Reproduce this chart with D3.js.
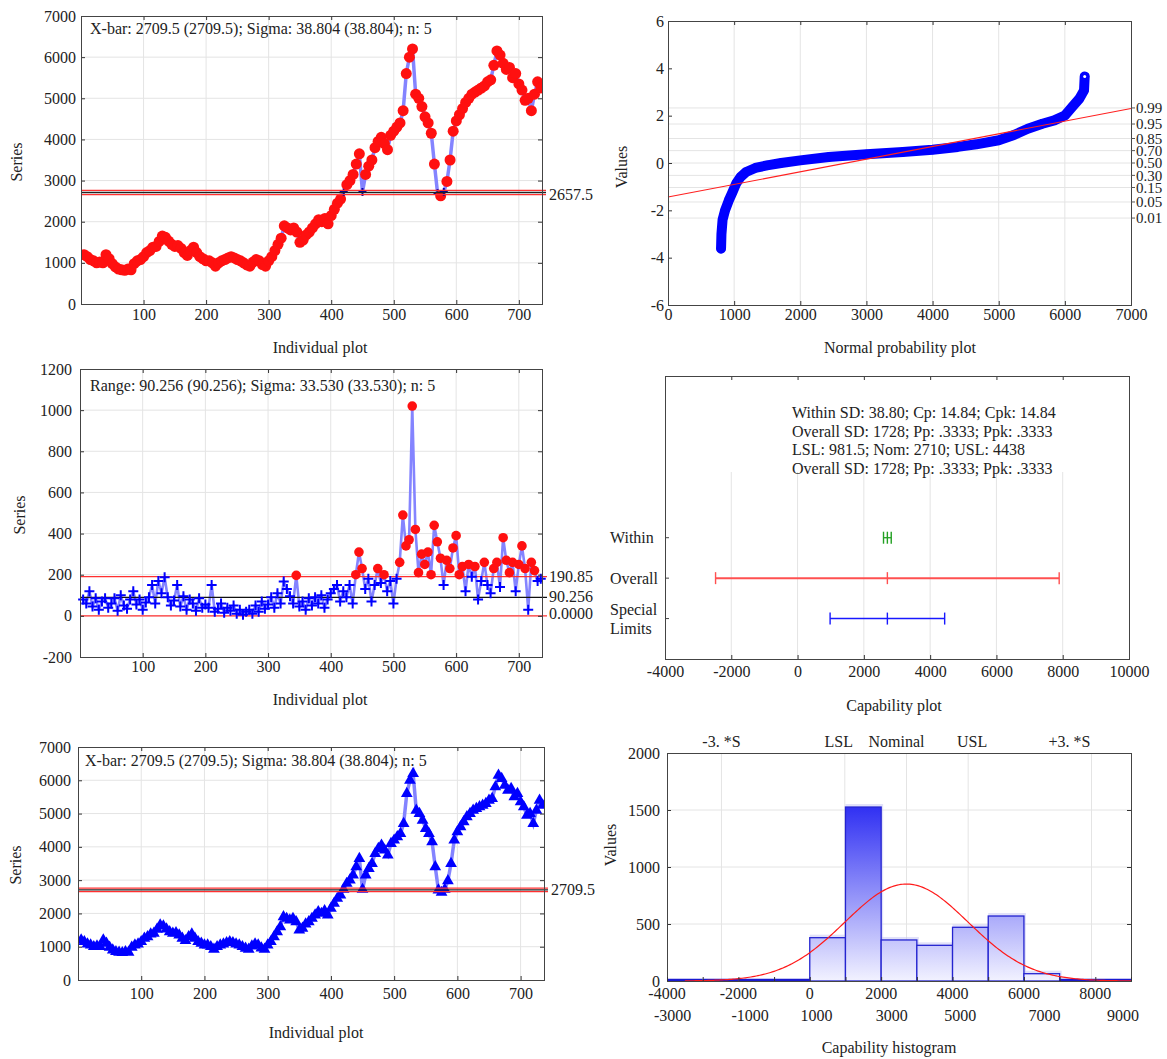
<!DOCTYPE html>
<html>
<head>
<meta charset="utf-8">
<script src="https://cdn.jsdelivr.net/npm/d3@7"></script>
<style>
  body { margin: 0; background: #fff; }
  svg { font-family: "Liberation Serif", serif; font-size: 16px; }
  text { fill: #222; }
</style>
</head>
<body>
<svg id="chart" width="1167" height="1059"></svg>
<script>
// ---------- data ----------
var sampleStep = 5; // every 5th subgroup
var xbarValues = [
  1200,1150,1080,1050,1000,1020,1000,1200,1100,980,
  900,850,830,820,850,830,980,1050,1080,1150,
  1250,1300,1380,1400,1520,1650,1620,1530,1450,1400,
  1420,1350,1250,1180,1300,1380,1250,1150,1100,1050,
  1050,1000,920,1000,1050,1080,1120,1150,1120,1080,
  1050,1000,950,920,1020,1080,1050,960,920,1050,
  1150,1300,1450,1600,1900,1850,1800,1850,1750,1500,
  1550,1680,1750,1850,1950,2050,2000,2080,1950,2150,
  2300,2450,2550,2720,2900,3000,3150,3400,3650,2720,
  3150,3350,3500,3800,3950,4050,3900,3750,4100,4200,
  4300,4400,4700,5600,6000,6200,5100,5000,4800,4550,
  4400,4150,3400,2700,2630,2720,2980,3500,4200,4450,
  4600,4750,4900,5000,5100,5150,5200,5250,5300,5400,
  5450,5800,6150,6050,5850,5700,5750,5500,5600,5350,
  5200,4950,5000,4700,5100,5400,5250
];
var rangeValues = [
  80,60,120,45,85,30,70,85,40,60,
  85,25,100,50,35,80,120,55,80,30,
  65,90,150,60,170,110,188,90,50,75,
  150,45,95,30,80,60,25,85,40,55,
  40,150,20,35,60,15,40,25,50,10,
  30,5,20,30,10,50,20,70,35,55,
  90,40,110,60,167,130,95,60,197,45,
  70,30,85,50,90,60,100,40,80,110,
  130,150,70,120,90,150,60,200,310,230,
  130,180,70,150,230,160,200,120,170,60,
  180,260,490,340,370,1020,420,210,300,250,
  310,200,440,360,280,150,270,230,330,390,
  200,240,120,250,190,240,80,170,260,150,
  110,230,260,140,380,270,210,260,120,250,
  340,230,30,260,220,170,180
];
// normal probability plot: observed value vs normal score
var probValues = [802,808,825,863,919,975,1030,1097,1181,1320,1498,1710,2000,2430,3000,
  3550,4000,4380,4660,5000,5220,5440,5660,5840,6000,6110,6220,6290,6300];
var probScores = [-3.62,-3.0,-2.4,-2.0,-1.58,-1.23,-0.87,-0.59,-0.38,-0.21,-0.10,0.0,0.11,0.25,0.37,
  0.46,0.56,0.68,0.79,0.96,1.17,1.45,1.66,1.80,2.01,2.37,2.72,3.07,3.66];
var probFit = [[0, -1.44], [7000, 2.30]];
var probLevels = [0.01, 0.05, 0.15, 0.30, 0.50, 0.70, 0.85, 0.95, 0.99];

var histEdges = [-4000,-3000,-2000,-1000,0,1000,2000,3000,4000,5000,6000,7000,8000];
var histCounts = [0,0,0,0,380,1526,360,313,471,570,64,0,0];
var histBinWidth = 1000;

var capCategories = ["Within", "Overall", "Special Limits"];

var xbarCenter = 2709.5, xbarLCL = 2657.5, xbarUCL = 2761.5;
var rangeCenter = 90.256, rangeUCL = 190.85, rangeLCL = 0;
var mean = 2709.5, withinSD = 38.804, overallSD = 1728;
var LSL = 981.5, USL = 4438, nominal = 2709.5;

// tick labels
var sampleTicks = [100, 200, 300, 400, 500, 600, 700];
var xbarYTicks = [0, 1000, 2000, 3000, 4000, 5000, 6000, 7000];
var rangeYTicks = [-200, 0, 200, 400, 600, 800, 1000, 1200];
var probXTicks = [0, 1000, 2000, 3000, 4000, 5000, 6000, 7000];
var probYTicks = [-6, -4, -2, 0, 2, 4, 6];
var capXTicks = [-4000, -2000, 0, 2000, 4000, 6000, 8000, 10000];
var histYTicks = [0, 500, 1000, 1500, 2000];
var histXTicksA = [-4000, -2000, 0, 2000, 4000, 6000, 8000];
var histXTicksB = [-3000, -1000, 1000, 3000, 5000, 7000, 9000];
var specNames = ["-3. *S", "LSL", "Nominal", "USL", "+3. *S"];

// ---------- helpers ----------
var svg = d3.select("#chart");
var GRID = "#e4e4e4";
var sampleX = (d, i) => (i + 1) * sampleStep;

function probit(p) { // quick approximation of the normal quantile
  return 4.91 * (Math.pow(p, 0.14) - Math.pow(1 - p, 0.14));
}

function grid(b, x, y, vs, hs, top) {
  var g = svg.append("g");
  g.selectAll(".v").data(vs || []).join("line")
    .attr("x1", d => x(d)).attr("x2", d => x(d))
    .attr("y1", top || b.t).attr("y2", b.b)
    .attr("stroke", GRID);
  g.selectAll(".h").data(hs || []).join("line")
    .attr("x1", b.l).attr("x2", b.r)
    .attr("y1", d => y(d)).attr("y2", d => y(d))
    .attr("stroke", GRID);
}

function clean(sel) {
  sel.attr("font-size", null).attr("font-family", null).attr("color", "#333");
  sel.select(".domain").remove();
}

function axes(b, x, y, o) {
  var fmt = d => String(d);
  if (o.xTicks) {
    svg.append("g").attr("transform", `translate(0,${b.b})`)
      .call(d3.axisBottom(x).tickValues(o.xTicks).tickSize(-4).tickPadding(o.xPad).tickFormat(o.xFmt || fmt))
      .call(clean);
    svg.append("g").attr("transform", `translate(0,${b.t})`)
      .call(d3.axisTop(x).tickValues(o.xTicks).tickSize(-4).tickFormat(""))
      .call(clean);
  }
  if (o.yTicks) {
    svg.append("g").attr("transform", `translate(${b.l},0)`)
      .call(d3.axisLeft(y).tickValues(o.yTicks).tickSize(-4).tickPadding(o.yPad).tickFormat(o.yFmt || fmt))
      .call(clean);
    if (o.mirrorY !== false)
      svg.append("g").attr("transform", `translate(${b.r},0)`)
        .call(d3.axisRight(y).tickValues(o.yTicks).tickSize(-4).tickFormat(""))
        .call(clean);
  }
  svg.append("rect")
    .attr("x", b.l + 0.5).attr("y", b.t + 0.5)
    .attr("width", b.r - b.l).attr("height", b.b - b.t)
    .attr("fill", "none").attr("stroke", "#444");
}

function label(x, y, txt, o) {
  o = o || {};
  var t = svg.append("text").attr("x", x).attr("y", y).text(txt)
    .attr("text-anchor", o.anchor || "start");
  if (o.rotate) t.attr("transform", `rotate(-90,${x},${y})`).attr("dominant-baseline", "central");
  if (o.middle) t.attr("dy", "0.35em");
  return t;
}

function xbarPanel(b, markerType, rightLabel) {
  var x = d3.scaleLinear().domain([0, 737]).range([b.l, b.r]);
  var y = d3.scaleLinear().domain([0, 7000]).range([b.b, b.t]);
  grid(b, x, y, sampleTicks, xbarYTicks.slice(1, -1));

  var clip = "clip" + b.t;
  svg.append("clipPath").attr("id", clip).append("rect")
    .attr("x", b.l).attr("y", b.t).attr("width", b.r - b.l).attr("height", b.b - b.t);
  var g = svg.append("g").attr("clip-path", `url(#${clip})`);

  g.append("path").datum(xbarValues)
    .attr("d", d3.line().x((d, i) => x(sampleX(d, i))).y(d => y(d)))
    .attr("fill", "none").attr("stroke", "#8484ff").attr("stroke-width", 3.5);

  if (markerType === "dot") {
    g.selectAll(".m").data(xbarValues).join("g")
      .attr("transform", (d, i) => `translate(${x(sampleX(d, i))},${y(d)})`)
      .each(function(d) {
        var s = d3.select(this);
        if (d >= xbarLCL && d <= xbarUCL)
          s.append("path").attr("d", "M-4,0H4M0,-4V4").attr("stroke", "#0000b0").attr("stroke-width", 2);
        else
          s.append("circle").attr("r", 5.5).attr("fill", "#ff1010");
      });
  } else {
    g.selectAll(".m").data(xbarValues).join("path")
      .attr("transform", (d, i) => `translate(${x(sampleX(d, i))},${y(d)})`)
      .attr("d", d3.symbol().type(d3.symbolTriangle).size(60))
      .attr("fill", "#0000ff");
  }

  [[xbarUCL, "#ff3030"], [xbarCenter, "#222"], [xbarLCL, "#ff3030"]].forEach(function(c) {
    svg.append("line").attr("x1", b.l).attr("x2", b.r + 4)
      .attr("y1", y(c[0])).attr("y2", y(c[0]))
      .attr("stroke", c[1]).attr("stroke-width", 1.3);
  });
  axes(b, x, y, { xTicks: sampleTicks, yTicks: xbarYTicks, xPad: b.xPad, yPad: b.yPad });
  label(b.r + 7, y(rightLabel), String(rightLabel), { middle: true });
  return { x: x, y: y };
}

// ---------- panel 1: X-bar with dots ----------
var b1 = { l: 81, r: 542, t: 16, b: 304, xPad: 5, yPad: 5 };
xbarPanel(b1, "dot", xbarLCL);
label(90, 34, "X-bar: 2709.5 (2709.5); Sigma: 38.804 (38.804); n: 5");
label(16, 162, "Series", { rotate: true, anchor: "middle" });
label(320, 353, "Individual plot", { anchor: "middle" });

// ---------- panel 5: X-bar with triangles ----------
var b5 = { l: 78, r: 544, t: 747, b: 980, xPad: 8, yPad: 7 };
xbarPanel(b5, "triangle", xbarCenter);
label(85, 766, "X-bar: 2709.5 (2709.5); Sigma: 38.804 (38.804); n: 5");
label(15, 865, "Series", { rotate: true, anchor: "middle" });
label(316, 1038, "Individual plot", { anchor: "middle" });

// ---------- panel 3: range chart ----------
(function() {
  var b = { l: 80, r: 542, t: 369, b: 657 };
  var x = d3.scaleLinear().domain([0, 737]).range([b.l, b.r]);
  var y = d3.scaleLinear().domain([-200, 1200]).range([b.b, b.t]);
  grid(b, x, y, sampleTicks, rangeYTicks.slice(1, -1));
  var g = svg.append("g");
  g.append("path").datum(rangeValues)
    .attr("d", d3.line().x((d, i) => x(sampleX(d, i))).y(d => y(d)))
    .attr("fill", "none").attr("stroke", "#8484ff").attr("stroke-width", 2.6);
  [[rangeUCL, "#ff3030"], [rangeCenter, "#111"], [rangeLCL, "#ff3030"]].forEach(function(c) {
    g.append("line").attr("x1", b.l).attr("x2", b.r + 5)
      .attr("y1", y(c[0])).attr("y2", y(c[0]))
      .attr("stroke", c[1]).attr("stroke-width", 1.2);
  });
  g.selectAll(".m").data(rangeValues).join("g")
    .attr("transform", (d, i) => `translate(${x(sampleX(d, i))},${y(d)})`)
    .each(function(d) {
      var s = d3.select(this);
      if (d > rangeUCL) s.append("circle").attr("r", 4.8).attr("fill", "#ff1010");
      else s.append("path").attr("d", "M-5,0H5M0,-5V5").attr("stroke", "#0000ff").attr("stroke-width", 2);
    });
  axes(b, x, y, { xTicks: sampleTicks, yTicks: rangeYTicks, xPad: 4, yPad: 8 });
  label(549, y(rangeUCL), "190.85", { middle: true });
  label(549, y(rangeCenter) - 1, "90.256", { middle: true });
  label(549, y(rangeLCL) - 2, "0.0000", { middle: true });
  label(90, 391, "Range: 90.256 (90.256); Sigma: 33.530 (33.530); n: 5");
  label(19, 515, "Series", { rotate: true, anchor: "middle" });
  label(320, 705, "Individual plot", { anchor: "middle" });
})();

// ---------- panel 2: normal probability plot ----------
(function() {
  var b = { l: 668, r: 1131, t: 21, b: 305 };
  var x = d3.scaleLinear().domain([0, 7000]).range([b.l, b.r]);
  var y = d3.scaleLinear().domain([-6, 6]).range([b.b, b.t]);
  var levelZ = probLevels.map(probit);
  grid(b, x, y, probXTicks.slice(1, -1), levelZ);

  var pts = probValues.map((v, i) => [v, probScores[i]]);
  svg.append("path").datum(pts)
    .attr("d", d3.line().x(d => x(d[0])).y(d => y(d[1])))
    .attr("fill", "none").attr("stroke", "#0000ff").attr("stroke-width", 10)
    .attr("stroke-linejoin", "round").attr("stroke-linecap", "round");
  svg.selectAll(".pp").data(pts).join("circle")
    .attr("cx", d => x(d[0])).attr("cy", d => y(d[1])).attr("r", 4.5)
    .attr("fill", "#0000ff");
  svg.append("circle").attr("cx", x(pts[pts.length - 1][0])).attr("cy", y(pts[pts.length - 1][1]))
    .attr("r", 1.5).attr("fill", "#fff");

  svg.append("line")
    .attr("x1", x(probFit[0][0])).attr("y1", y(probFit[0][1]))
    .attr("x2", x(probFit[1][0])).attr("y2", y(probFit[1][1]))
    .attr("stroke", "#ff2020").attr("stroke-width", 1.1);

  axes(b, x, y, { xTicks: probXTicks, yTicks: probYTicks, xPad: 4, yPad: 4, mirrorY: false });
  svg.append("g").selectAll("line").data(levelZ).join("line")
    .attr("x1", b.r).attr("x2", b.r + 4)
    .attr("y1", d => y(d)).attr("y2", d => y(d)).attr("stroke", "#555");
  svg.append("g").selectAll("text").data(probLevels).join("text")
    .attr("x", b.r + 5).attr("y", d => y(probit(d))).attr("dy", "0.35em")
    .attr("font-size", 15)
    .text(d => d3.format(".2f")(d));
  label(621, 167, "Values", { rotate: true, anchor: "middle" });
  label(900, 353, "Normal probability plot", { anchor: "middle" });
})();

// ---------- panel 4: capability plot ----------
(function() {
  var b = { l: 665, r: 1129, t: 376, b: 659 };
  var x = d3.scaleLinear().domain([-4000, 10000]).range([b.l, b.r]);
  // seven equal rows down the frame; the three categories sit in rows 4-6
  var y = d3.scaleLinear().domain([0, 7]).range([b.t, b.b]);
  var rowOf = i => i + 4;
  grid(b, x, y, capXTicks.slice(1, -1), null, 472);

  var intervals = [
    { lo: mean - 3 * withinSD, mid: mean, hi: mean + 3 * withinSD, color: "#22a022", w: 1.3 },
    { lo: mean - 3 * overallSD, mid: mean, hi: mean + 3 * overallSD, color: "#ff5050", w: 2 },
    { lo: LSL, mid: nominal, hi: USL, color: "#1818ff", w: 1.4 }
  ];
  intervals.forEach(function(iv, i) {
    var cy = y(rowOf(i));
    svg.append("line").attr("x1", x(iv.lo)).attr("x2", x(iv.hi))
      .attr("y1", cy).attr("y2", cy).attr("stroke", iv.color).attr("stroke-width", iv.w);
    [iv.lo, iv.mid, iv.hi].forEach(function(v) {
      svg.append("line").attr("x1", x(v)).attr("x2", x(v))
        .attr("y1", cy - 6).attr("y2", cy + 6)
        .attr("stroke", iv.color).attr("stroke-width", 1.4);
    });
  });

  axes(b, x, y, { xTicks: capXTicks, xPad: 7 });
  svg.append("g").selectAll("line").data(capCategories).join("line")
    .attr("x1", b.l).attr("x2", b.l + 4)
    .attr("y1", (d, i) => y(rowOf(i))).attr("y2", (d, i) => y(rowOf(i))).attr("stroke", "#444");
  capCategories.forEach(function(c, i) {
    var words = c.split(" ");
    var t = svg.append("text").attr("x", 610).attr("y", y(rowOf(i)));
    if (words.length === 1) t.attr("dy", "0.35em").text(c);
    else words.forEach(function(w, k) {
      t.append("tspan").attr("x", 610).attr("dy", k === 0 ? "-0.2em" : "1.15em").text(w);
    });
  });

  var info = [
    "Within SD: 38.80; Cp: 14.84; Cpk: 14.84",
    "Overall SD: 1728; Pp: .3333; Ppk: .3333",
    "LSL: 981.5; Nom: 2710; USL: 4438",
    "Overall SD: 1728; Pp: .3333; Ppk: .3333"
  ];
  info.forEach((s, i) => label(792, 418 + i * 18.6, s));
  label(894, 711, "Capability plot", { anchor: "middle" });
})();

// ---------- panel 6: capability histogram ----------
(function() {
  var b = { l: 667, r: 1131, t: 753, b: 981 };
  var x = d3.scaleLinear().domain([-4000, 9000]).range([b.l, b.r]);
  var y = d3.scaleLinear().domain([0, 2000]).range([b.b, b.t]);
  var specs = [mean - 3 * overallSD, LSL, nominal, USL, mean + 3 * overallSD];
  grid(b, x, y, specs, histYTicks.slice(1, -1));

  var grad = svg.append("defs").append("linearGradient").attr("id", "histGrad")
    .attr("gradientUnits", "userSpaceOnUse")
    .attr("x1", 0).attr("x2", 0).attr("y1", y(1560)).attr("y2", y(0));
  grad.append("stop").attr("offset", 0).attr("stop-color", "#2c2cf2");
  grad.append("stop").attr("offset", 1).attr("stop-color", "#f2f2ff");

  var bins = histEdges.map((e, i) => ({ x0: e, x1: e + histBinWidth, n: histCounts[i] }));
  var full = bins.filter(d => d.n > 0);
  svg.append("g").selectAll("rect").data(full).join("rect")
    .attr("x", d => x(d.x0)).attr("y", d => y(d.n) - 3)
    .attr("width", d => x(d.x1) - x(d.x0) + 2).attr("height", d => y(0) - y(d.n) + 3)
    .attr("fill", "#c4c4f4").attr("opacity", 0.5);
  svg.append("g").selectAll("rect").data(full).join("rect")
    .attr("x", d => x(d.x0)).attr("y", d => y(d.n))
    .attr("width", d => x(d.x1) - x(d.x0)).attr("height", d => y(0) - y(d.n))
    .attr("fill", "url(#histGrad)").attr("stroke", "#2424d0").attr("stroke-width", 1.3);
  svg.append("g").selectAll("line").data(bins.filter(d => d.n === 0)).join("line")
    .attr("x1", d => x(d.x0)).attr("x2", d => x(d.x1))
    .attr("y1", y(0) - 1).attr("y2", y(0) - 1)
    .attr("stroke", "#1a1ad0").attr("stroke-width", 2.5);

  // fitted normal curve, scaled to counts
  var total = d3.sum(histCounts);
  var curveX = d3.range(-3500, 9001, 50);
  var dens = v => total * histBinWidth * Math.exp(-0.5 * Math.pow((v - mean) / overallSD, 2)) / (overallSD * Math.sqrt(2 * Math.PI));
  svg.append("path").datum(curveX)
    .attr("d", d3.line().x(d => x(d)).y(d => y(dens(d))))
    .attr("fill", "none").attr("stroke", "#ff1a1a").attr("stroke-width", 1.2);

  axes(b, x, y, { yTicks: histYTicks, yPad: 7 });
  svg.append("g").attr("transform", `translate(0,${b.b})`)
    .call(d3.axisBottom(x).tickValues(histXTicksA.concat(histXTicksB)).tickSize(-4).tickFormat(""))
    .call(clean);
  // the software prints the odd-thousand labels shifted left of their ticks
  var shiftB = [-30, -24, -29, -25, -28, -15, -8];
  var shiftSpec = [0, -6, -10, 4, -22];
  svg.append("g").selectAll("text").data(histXTicksA).join("text")
    .attr("x", d => x(d)).attr("y", 999).attr("text-anchor", "middle").text(d => String(d));
  svg.append("g").selectAll("text").data(histXTicksB).join("text")
    .attr("x", (d, i) => x(d) + shiftB[i]).attr("y", 1021).attr("text-anchor", "middle").text(d => String(d));
  svg.append("g").selectAll("text").data(specNames).join("text")
    .attr("x", (d, i) => x(specs[i]) + shiftSpec[i]).attr("y", 747).attr("text-anchor", "middle").text(d => d);
  label(610, 845, "Values", { rotate: true, anchor: "middle" });
  label(889, 1053, "Capability histogram", { anchor: "middle" });
})();
</script>
</body>
</html>
